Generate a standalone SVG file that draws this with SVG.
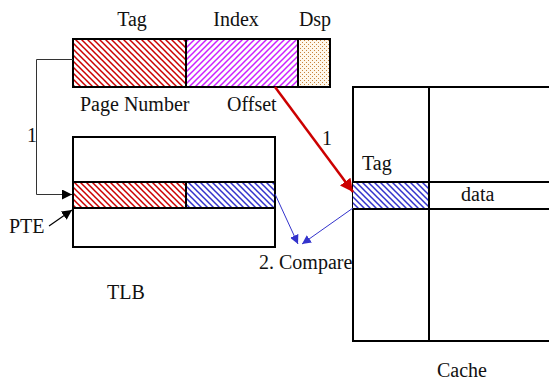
<svg xmlns="http://www.w3.org/2000/svg" width="549" height="381" viewBox="0 0 549 381">
  <style>
    .lbl { font-family: "Liberation Serif", "Times New Roman", serif; font-size: 20px; fill: #111; }
    .box { fill: #fff; stroke: #000; stroke-width: 2; }
    .cell { stroke: #000; stroke-width: 2; }
  </style>
  <defs>
    <pattern id="hatchRed" patternUnits="userSpaceOnUse" width="6" height="6">
      <rect width="6" height="6" fill="#fff"/>
      <path d="M-1,-1 L7,7 M-1,5 L1,7 M5,-1 L7,1" stroke="#cc0000" stroke-width="1.5"/>
    </pattern>
    <pattern id="hatchMagenta" patternUnits="userSpaceOnUse" width="6" height="6">
      <rect width="6" height="6" fill="#fff"/>
      <path d="M-1,7 L7,-1 M-1,1 L1,-1 M5,7 L7,5" stroke="#cc22ff" stroke-width="1.5"/>
    </pattern>
    <pattern id="hatchBlue" patternUnits="userSpaceOnUse" width="6" height="6">
      <rect width="6" height="6" fill="#fff"/>
      <path d="M-1,-1 L7,7 M-1,5 L1,7 M5,-1 L7,1" stroke="#3333cc" stroke-width="1.5"/>
    </pattern>
    <pattern id="dots" patternUnits="userSpaceOnUse" width="4" height="4">
      <rect width="4" height="4" fill="#fff8ec"/>
      <rect x="0" y="0" width="1" height="1" fill="#c8843c"/>
      <rect x="2" y="2" width="1" height="1" fill="#c8843c"/>
    </pattern>
    <marker id="arrBlack" viewBox="0 0 10 10" refX="10" refY="5" markerWidth="10" markerHeight="10" markerUnits="userSpaceOnUse" orient="auto">
      <path d="M0,0 L10,5 L0,10 z" fill="#000"/>
    </marker>
    <marker id="arrRed" viewBox="0 0 10 10" refX="10" refY="5" markerWidth="13" markerHeight="13" markerUnits="userSpaceOnUse" orient="auto">
      <path d="M0,0 L10,5 L0,10 z" fill="#cc0000"/>
    </marker>
    <marker id="arrBlue" viewBox="0 0 10 10" refX="10" refY="5" markerWidth="9" markerHeight="9" markerUnits="userSpaceOnUse" orient="auto">
      <path d="M0,0 L10,5 L0,10 z" fill="#3333cc"/>
    </marker>
  </defs>

  <!-- virtual address: tag / index / displacement -->
  <g id="address">
    <rect x="73" y="39" width="113" height="48" fill="url(#hatchRed)"/>
    <rect x="186" y="39" width="112" height="48" fill="url(#hatchMagenta)"/>
    <rect x="298" y="39" width="32" height="48" fill="url(#dots)"/>
    <rect x="73" y="39" width="257" height="48" fill="none" stroke="#000" stroke-width="2"/>
    <line class="cell" x1="186" y1="39" x2="186" y2="87"/>
    <line class="cell" x1="298" y1="39" x2="298" y2="87"/>
    <text class="lbl" x="132" y="26" text-anchor="middle">Tag</text>
    <text class="lbl" x="236" y="26" text-anchor="middle">Index</text>
    <text class="lbl" x="315" y="26" text-anchor="middle">Dsp</text>
    <text class="lbl" x="80" y="111">Page Number</text>
    <text class="lbl" x="227" y="111">Offset</text>
  </g>

  <!-- translation lookaside buffer -->
  <g id="tlb">
    <rect class="box" x="73" y="137" width="202" height="110"/>
    <rect x="73" y="182" width="113" height="26" fill="url(#hatchRed)"/>
    <rect x="186" y="182" width="89" height="26" fill="url(#hatchBlue)"/>
    <rect x="73" y="182" width="202" height="26" fill="none" stroke="#000" stroke-width="2"/>
    <line class="cell" x1="186" y1="182" x2="186" y2="208"/>
    <text class="lbl" x="126" y="299" text-anchor="middle">TLB</text>
  </g>

  <!-- cache array -->
  <g id="cache">
    <rect class="box" x="353" y="87" width="200" height="254"/>
    <rect x="353" y="182" width="76" height="27" fill="url(#hatchBlue)"/>
    <line class="cell" x1="429" y1="87" x2="429" y2="341"/>
    <line class="cell" x1="353" y1="182" x2="553" y2="182"/>
    <line class="cell" x1="353" y1="209" x2="553" y2="209"/>
    <text class="lbl" x="362" y="170">Tag</text>
    <text class="lbl" x="461" y="201">data</text>
    <text class="lbl" x="462" y="377" text-anchor="middle">Cache</text>
  </g>

  <g id="pte-label">
    <text class="lbl" x="9" y="233">PTE</text>
  </g>

  <g id="compare-label">
    <text class="lbl" x="259" y="269">2. Compare</text>
  </g>

  <!-- connectors -->
  <g id="connectors" fill="none">
    <polyline points="73,59.5 36.5,59.5 36.5,194.5 72,194.5" stroke="#333" stroke-width="1" marker-end="url(#arrBlack)"/>
    <text class="lbl" x="27" y="142">1</text>
    <line x1="49" y1="226" x2="72" y2="210" stroke="#000" stroke-width="1.2" marker-end="url(#arrBlack)"/>
    <line x1="275" y1="87" x2="353" y2="192" stroke="#cc0000" stroke-width="2.5" marker-end="url(#arrRed)"/>
    <text class="lbl" x="322" y="145">1</text>
    <line x1="275" y1="194" x2="298" y2="244" stroke="#3333cc" stroke-width="1" marker-end="url(#arrBlue)"/>
    <line x1="353" y1="208" x2="302" y2="244" stroke="#3333cc" stroke-width="1" marker-end="url(#arrBlue)"/>
  </g>
</svg>
